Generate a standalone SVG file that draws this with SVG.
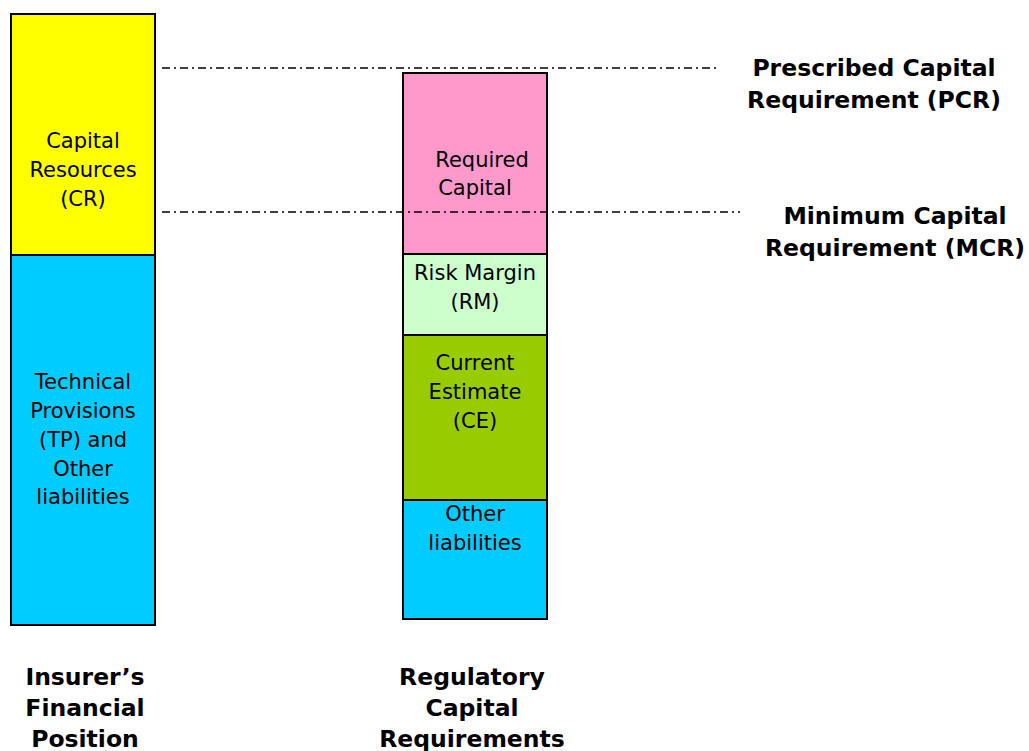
<svg xmlns="http://www.w3.org/2000/svg" width="1029" height="751" viewBox="0 0 1029 751">
<style>
.box{stroke:#000;stroke-width:2}
.t{font-family:"DejaVu Sans",Verdana,sans-serif;font-size:21px;fill:#000;text-anchor:middle}
.b{font-family:"DejaVu Sans",Verdana,sans-serif;font-size:23.5px;font-weight:bold;fill:#000;text-anchor:middle}
.dl{stroke:#000;stroke-width:1.5;stroke-dasharray:8 4 2 4;fill:none}
</style>
<rect width="1029" height="751" fill="#fff"/>
<g id="cr">
<rect class="box" x="11" y="14" width="144" height="241" fill="#FFFF00"/>
<text class="t" x="83" y="148">Capital</text>
<text class="t" x="83" y="177">Resources</text>
<text class="t" x="83" y="206">(CR)</text>
</g>
<g id="tp">
<rect class="box" x="11" y="255" width="144" height="370" fill="#00CCFF"/>
<text class="t" x="83" y="389">Technical</text>
<text class="t" x="83" y="418">Provisions</text>
<text class="t" x="83" y="447">(TP) and</text>
<text class="t" x="83" y="476">Other</text>
<text class="t" x="83" y="504">liabilities</text>
</g>
<g id="rc">
<rect class="box" x="403" y="73" width="144" height="181" fill="#FF99CC"/>
<text class="t" x="482" y="167">Required</text>
<text class="t" x="475" y="195">Capital</text>
</g>
<g id="rm">
<rect class="box" x="403" y="254" width="144" height="81" fill="#CCFFCC"/>
<text class="t" x="475" y="280">Risk Margin</text>
<text class="t" x="475" y="309">(RM)</text>
</g>
<g id="ce">
<rect class="box" x="403" y="335" width="144" height="165" fill="#99CC00"/>
<text class="t" x="475" y="370">Current</text>
<text class="t" x="475" y="399">Estimate</text>
<text class="t" x="475" y="428">(CE)</text>
</g>
<g id="ol">
<rect class="box" x="403" y="500" width="144" height="119" fill="#00CCFF"/>
<text class="t" x="475" y="521">Other</text>
<text class="t" x="475" y="550">liabilities</text>
</g>
<g id="connectors">
<line class="dl" x1="162" y1="68" x2="720" y2="68"/>
<line class="dl" x1="162" y1="212" x2="740" y2="212"/>
</g>
<g id="pcr">
<text class="b" x="874" y="76">Prescribed Capital</text>
<text class="b" x="874" y="108">Requirement (PCR)</text>
</g>
<g id="mcr">
<text class="b" x="895" y="224">Minimum Capital</text>
<text class="b" x="895" y="256">Requirement (MCR)</text>
</g>
<g id="ifp">
<text class="b" x="85" y="685">Insurer’s</text>
<text class="b" x="85" y="716">Financial</text>
<text class="b" x="85" y="747">Position</text>
</g>
<g id="rcr">
<text class="b" x="472" y="685">Regulatory</text>
<text class="b" x="472" y="716">Capital</text>
<text class="b" x="472" y="747">Requirements</text>
</g>
</svg>
